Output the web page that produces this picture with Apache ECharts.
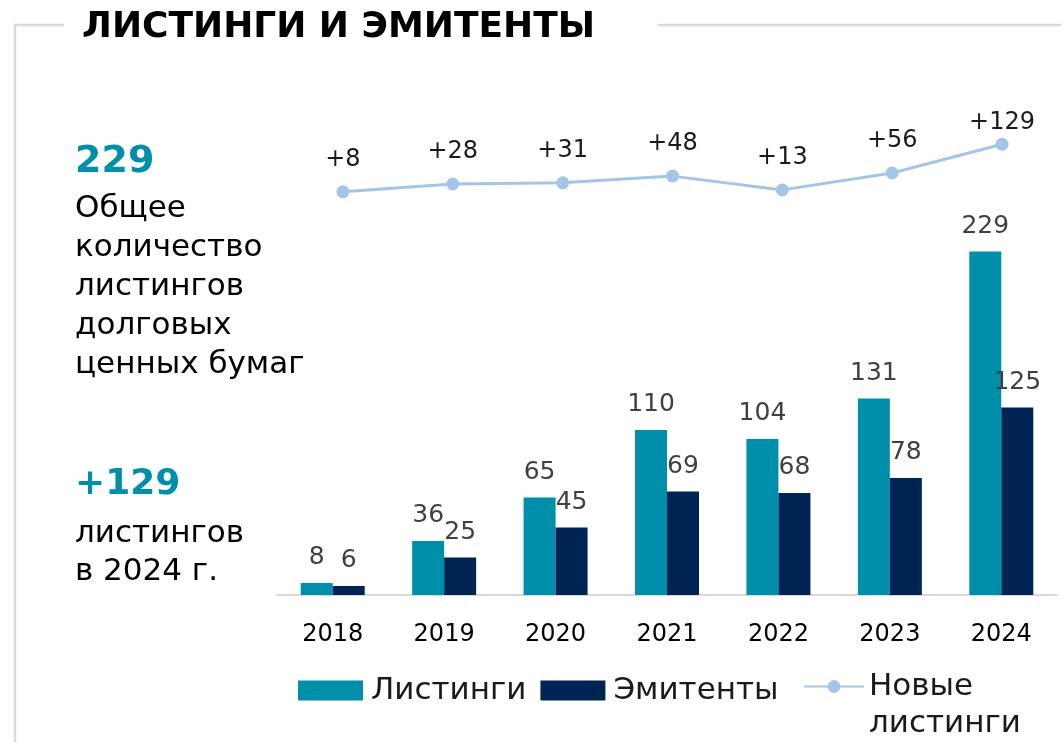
<html>
<head>
<meta charset="utf-8">
<script src="https://cdn.jsdelivr.net/npm/echarts@6/dist/echarts.min.js"></script>
<style>
  html, body, #main { width: 100%; height: 100%; margin: 0; background: #fff; }
</style>
</head>
<body>
<div id="main"></div>
<script>
var years = ['2018', '2019', '2020', '2021', '2022', '2023', '2024'];
var listings = [8, 36, 65, 110, 104, 131, 229];
var issuers = [6, 25, 45, 69, 68, 78, 125];
var newListings = [8, 28, 31, 48, 13, 56, 129];

var FONT = '"DejaVu Sans", sans-serif';
var TEAL = '#008FAA';
var NAVY = '#002554';
var LIGHT = '#A5C5E8';

var chart = echarts.init(document.getElementById('main'));

// last label sits closer to its point, as in the original
var lineData = newListings.map(function (v, i) {
    return i === newListings.length - 1 ? { value: v, label: { distance: 3 } } : v;
});

var option = {
    backgroundColor: '#fff',
    textStyle: { fontFamily: FONT },
    graphic: [
        // frame
        { type: 'polyline', silent: true,
          shape: { points: [[15, 742], [15, 25], [64, 25]] },
          style: { stroke: '#d9d9d9', lineWidth: 2.5, fill: null } },
        { type: 'line', silent: true,
          shape: { x1: 658, y1: 25, x2: 1061, y2: 25 },
          style: { stroke: '#d9d9d9', lineWidth: 2.5 } },
        { type: 'text', left: 82, top: 10,
          style: { text: 'ЛИСТИНГИ И ЭМИТЕНТЫ', font: 'bold 36px ' + FONT, fill: '#000' } },
        { type: 'text', left: 75, top: 143,
          style: { text: '229', font: 'bold 38px ' + FONT, fill: TEAL } },
        { type: 'text', left: 75, top: 189,
          style: { text: 'Общее\nколичество\nлистингов\nдолговых\nценных бумаг',
                   font: '31px ' + FONT, lineHeight: 39, fill: '#000' } },
        { type: 'text', left: 75, top: 467,
          style: { text: '+129', font: 'bold 36px ' + FONT, fill: TEAL } },
        { type: 'text', left: 75, top: 515,
          style: { text: 'листингов\nв 2024 г.', font: '31px ' + FONT, lineHeight: 38, fill: '#000' } }
    ],
    legend: [{
        data: ['Листинги', 'Эмитенты'],
        left: 298, top: 675, padding: 0,
        icon: 'rect',
        itemWidth: 65, itemHeight: 20, itemGap: 14,
        textStyle: { fontSize: 31, color: '#1a1a1a', fontFamily: FONT, padding: [0, 0, 0, 3] }
    }, {
        data: ['Новые листинги'],
        left: 803, top: 631, padding: 0,
        itemWidth: 60, itemHeight: 16,
        formatter: function () { return ' \nНовые\nлистинги'; },
        textStyle: { fontSize: 31, lineHeight: 37, color: '#1a1a1a', fontFamily: FONT }
    }],
    grid: [
        { left: 277, right: 4, top: 220, bottom: 147 },
        { left: 288, right: 4, top: 136, bottom: 547 }
    ],
    xAxis: [{
        type: 'category', gridIndex: 0, data: years,
        axisLine: { lineStyle: { color: '#d9d9d9', width: 2 } },
        axisTick: { show: false },
        axisLabel: { fontSize: 24, color: '#000', margin: 28, fontFamily: FONT }
    }, {
        type: 'category', gridIndex: 1, data: years, show: false
    }],
    yAxis: [{
        type: 'value', gridIndex: 0, min: 0, max: 250, show: false, splitLine: { show: false }
    }, {
        type: 'value', gridIndex: 1, min: 0, max: 150, show: false, splitLine: { show: false }
    }],
    series: [{
        name: 'Листинги', type: 'bar', xAxisIndex: 0, yAxisIndex: 0,
        data: listings,
        barWidth: 32, barGap: '0%',
        itemStyle: { color: TEAL },
        label: { show: true, position: 'top', distance: 13, fontSize: 25,
                 color: '#404040', fontFamily: FONT }
    }, {
        name: 'Эмитенты', type: 'bar', xAxisIndex: 0, yAxisIndex: 0,
        data: issuers,
        barWidth: 32, barGap: '0%',
        itemStyle: { color: NAVY },
        label: { show: true, position: 'top', distance: 13, fontSize: 25,
                 color: '#404040', fontFamily: FONT }
    }, {
        name: 'Новые листинги', type: 'line', xAxisIndex: 1, yAxisIndex: 1,
        data: lineData,
        symbol: 'circle', symbolSize: 13,
        lineStyle: { color: LIGHT, width: 3 },
        itemStyle: { color: LIGHT },
        label: { show: true, position: 'top', distance: 14, fontSize: 24,
                 color: '#1a1a1a', fontFamily: FONT,
                 formatter: function (p) { return '+' + p.value; } }
    }]
};

chart.setOption(option);
</script>
</body>
</html>
